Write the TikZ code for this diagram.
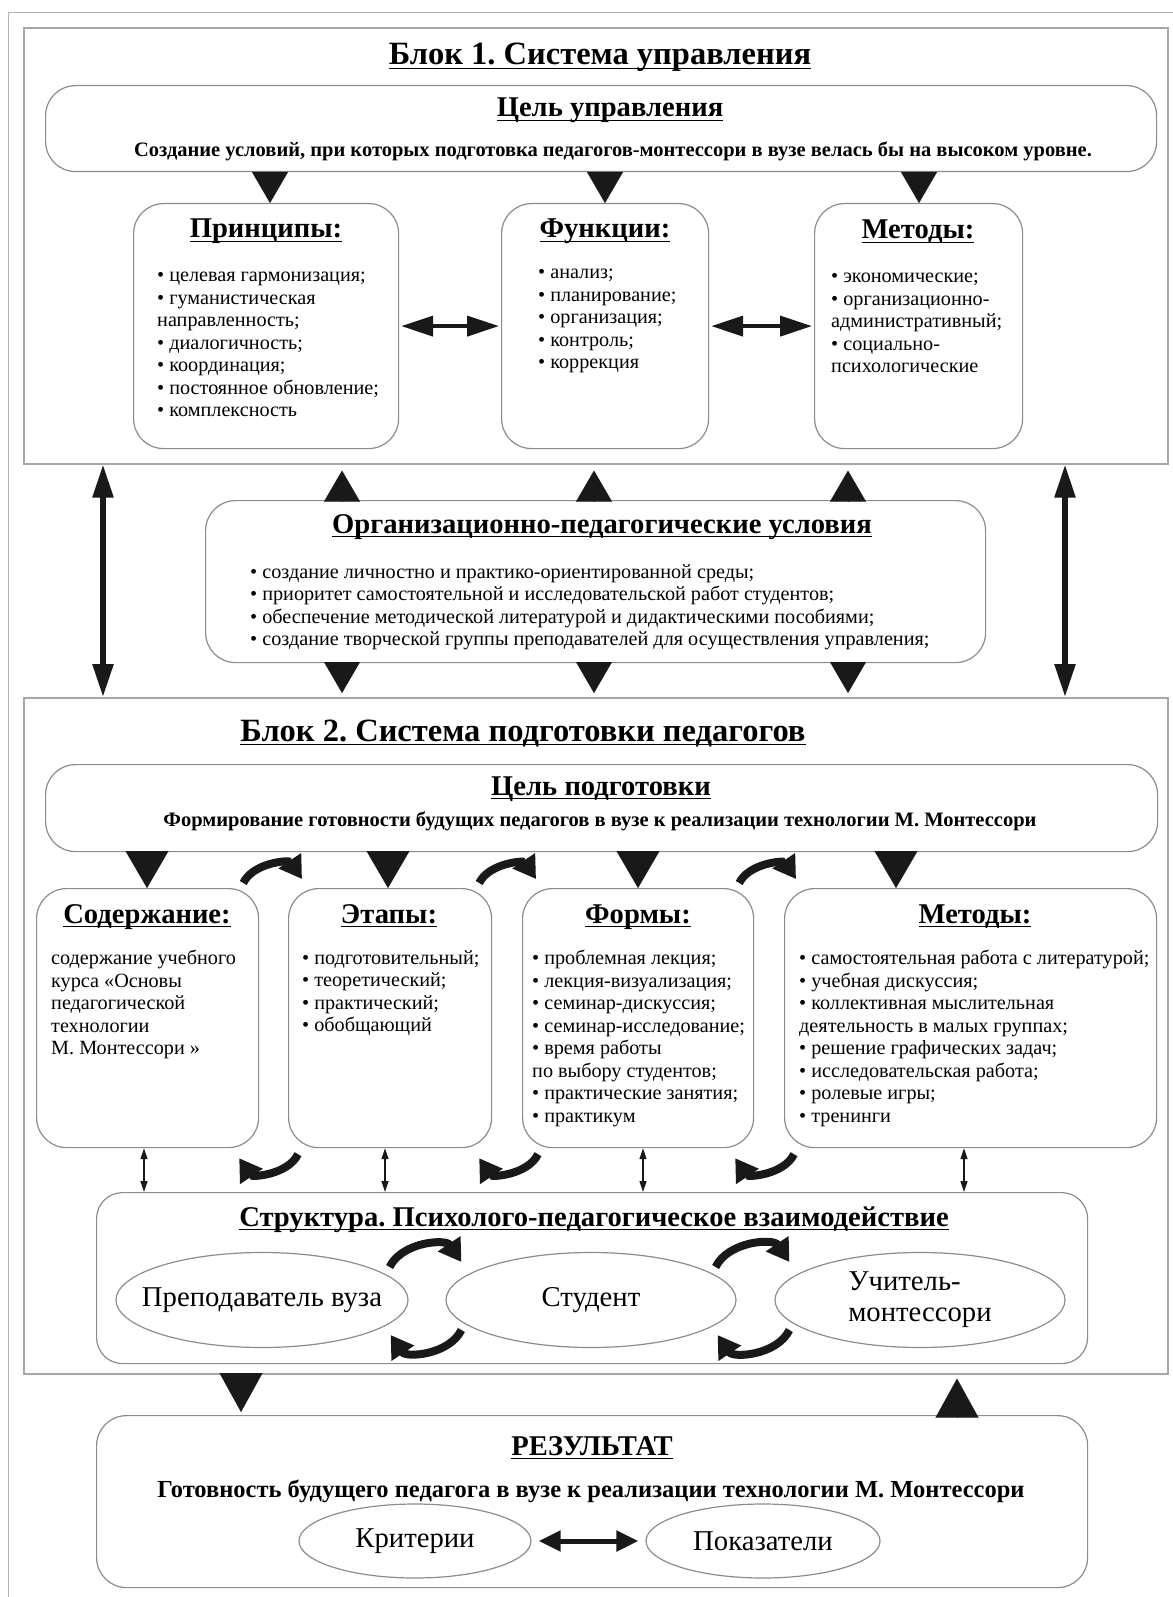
\documentclass[tikz,border=0pt]{standalone}
\usepackage{fontspec}
\setmainfont{Liberation Serif}
\usetikzlibrary{arrows.meta,shapes.geometric,calc}
\frenchspacing
\newsavebox\ulbox
\newcommand\uln[1]{\sbox\ulbox{#1}\rlap{\vrule height -2.6pt depth 4.2pt width \wd\ulbox}\usebox\ulbox}

\begin{document}
\begin{tikzpicture}[x=1pt,y=-1pt,
  blk/.style={draw=black!35,line width=1.6pt,anchor=north west,inner sep=0pt},
  rbox/.style={draw=black!45,line width=1.2pt,rounded corners=30pt,anchor=north west,inner sep=0pt},
  ell/.style={ellipse,draw=black!45,line width=1.2pt,inner sep=0pt},
  elt/.style={inner sep=0pt,align=left,font=\fontsize{28.7}{31}\selectfont},
  ttl/.style={anchor=base,inner sep=0pt,font=\bfseries\fontsize{32.5}{38}\selectfont},
  hd/.style={anchor=base,inner sep=0pt,font=\bfseries\fontsize{28.6}{33}\selectfont},
  sub/.style={anchor=base,inner sep=0pt,font=\bfseries\fontsize{20.5}{24}\selectfont},
  itm/.style={anchor=north west,inner sep=0pt,align=left,font=\fontsize{20.2}{22.5}\selectfont},
  tri/.style={-{Triangle[length=31pt,width=36pt]},line width=0.1pt,black!90},
  trib/.style={-{Triangle[length=37pt,width=43pt]},line width=0.1pt,black!90},
  tril/.style={-{Triangle[length=39pt,width=43pt]},line width=0.1pt,black!90},
  dbl/.style={{Triangle[length=32pt,width=20pt]}-{Triangle[length=32pt,width=20pt]},line width=4pt,black!90,shorten <=2pt,shorten >=2pt},
  vdbl/.style={{Triangle[length=33pt,width=20pt]}-{Triangle[length=33pt,width=20pt]},line width=5.5pt,black!90},
  sdbl/.style={{Triangle[length=11pt,width=7pt]}-{Triangle[length=11pt,width=7pt]},line width=1.2pt,black!90},
  rdbl/.style={{Triangle[length=22pt,width=20pt]}-{Triangle[length=22pt,width=20pt]},line width=5pt,black!90,shorten <=7pt,shorten >=7pt},
  crv/.style={-{Triangle[length=22pt,width=26pt]},line width=8pt,black!90}]
\useasboundingbox (0,0) rectangle (1172,1597);
\draw[black!30,line width=1pt] (8,13) rectangle (1200,1620);

\node[blk,minimum width=1144pt,minimum height=436pt] (blk1) at (23,27) {};
\node[ttl] (blk1t) at (600,65) {\uln{Блок 1. Система управления}};
\node[rbox,minimum width=1111pt,minimum height=86pt] (goal1) at (45,85) {};
\node[hd] (goal1t) at (610,117) {\uln{Цель управления}};
\node[sub] (goal1s) at (613,157) {Создание условий, при которых подготовка педагогов-монтессори в вузе велась бы на высоком уровне.};

\node[rbox,minimum width=265pt,minimum height=245pt] (prin) at (133,203) {};
\node[hd] (print) at (266,238) {\uln{Принципы:}};
\node[itm] (prinl) at (157,272) {• целевая гармонизация;\\• гуманистическая\\направленность;\\• диалогичность;\\• координация;\\• постоянное обновление;\\• комплексность};
\node[rbox,minimum width=207pt,minimum height=245pt] (fun) at (501,203) {};
\node[hd] (funt) at (605,238) {\uln{Функции:}};
\node[itm] (funl) at (538,269) {• анализ;\\• планирование;\\• организация;\\• контроль;\\• коррекция};
\node[rbox,minimum width=208pt,minimum height=245pt] (met1) at (814,203) {};
\node[hd] (met1t) at (918,239) {\uln{Методы:}};
\node[itm] (met1l) at (831,273) {• экономические;\\• организационно-\\административный;\\• социально-\\психологические};

\draw[tri] (270,0 |- goal1.south) -- (270,0 |- prin.north);
\draw[tri] (605,0 |- goal1.south) -- (605,0 |- fun.north);
\draw[tri] (919,0 |- goal1.south) -- (919,0 |- met1.north);
\draw[dbl] (prin.east) -- (fun.west);
\draw[dbl] (fun.east) -- (met1.west);

\node[blk,minimum width=1144pt,minimum height=676pt] (blk2) at (23,697) {};
\node[rbox,minimum width=780pt,minimum height=162pt] (org) at (205,500) {};
\node[hd] (orgt) at (602,533) {\uln{Организационно-педагогические условия}};
\node[itm] (orgl) at (250,564) {• создание личностно и практико-ориентированной среды;\\• приоритет самостоятельной и исследовательской работ студентов;\\• обеспечение методической литературой и дидактическими пособиями;\\• создание творческой группы преподавателей для осуществления управления;};

\draw[tri,shorten >=6pt] (342,0 |- org.north) -- (342,0 |- blk1.south);
\draw[tri,shorten >=6pt] (594,0 |- org.north) -- (594,0 |- blk1.south);
\draw[tri,shorten >=6pt] (848,0 |- org.north) -- (848,0 |- blk1.south);
\draw[tri,shorten >=4pt] (342,0 |- org.south) -- (342,0 |- blk2.north);
\draw[tri,shorten >=4pt] (594,0 |- org.south) -- (594,0 |- blk2.north);
\draw[tri,shorten >=4pt] (848,0 |- org.south) -- (848,0 |- blk2.north);
\draw[vdbl] (103,0 |- blk1.south) -- (103,0 |- blk2.north);
\draw[vdbl] (1065,0 |- blk1.south) -- (1065,0 |- blk2.north);

\node[ttl] (blk2t) at (523,741) {\uln{Блок 2. Система подготовки педагогов}};
\node[rbox,minimum width=1112pt,minimum height=87pt] (goal2) at (45,764) {};
\node[hd] (goal2t) at (601,795) {\uln{Цель подготовки}};
\node[sub] (goal2s) at (600,826) {Формирование готовности будущих педагогов в вузе к реализации технологии М. Монтессори};

\node[rbox,minimum width=222pt,minimum height=259pt] (sod) at (36,888) {};
\node[hd] (sodt) at (147,923) {\uln{Содержание:}};
\node[itm] (sodl) at (51,950) {содержание учебного\\курса «Основы\\педагогической\\технологии\\М. Монтессори »};
\node[rbox,minimum width=203pt,minimum height=259pt] (eta) at (288,888) {};
\node[hd] (etat) at (389,923) {\uln{Этапы:}};
\node[itm] (etal) at (302,950) {• подготовительный;\\• теоретический;\\• практический;\\• обобщающий};
\node[rbox,minimum width=231pt,minimum height=259pt] (frm) at (522,888) {};
\node[hd] (frmt) at (638,923) {\uln{Формы:}};
\node[itm] (frml) at (532,950) {• проблемная лекция;\\• лекция-визуализация;\\• семинар-дискуссия;\\• семинар-исследование;\\• время работы\\по выбору студентов;\\• практические занятия;\\• практикум};
\node[rbox,minimum width=372pt,minimum height=259pt] (met2) at (784,888) {};
\node[hd] (met2t) at (975,923) {\uln{Методы:}};
\node[itm] (met2l) at (799,950) {• самостоятельная работа с литературой;\\• учебная дискуссия;\\• коллективная мыслительная\\деятельность в малых группах;\\• решение графических задач;\\• исследовательская работа;\\• ролевые игры;\\• тренинги};

\draw[trib] (147,0 |- goal2.south) -- (147,0 |- sod.north);
\draw[trib] (388,0 |- goal2.south) -- (388,0 |- eta.north);
\draw[trib] (638,0 |- goal2.south) -- (638,0 |- frm.north);
\draw[trib] (896,0 |- goal2.south) -- (896,0 |- met2.north);

\draw[crv] ($(sod.north east)+(-16,-5)$) to[bend left=60] ($(eta.north west)+(14,-9)$);
\draw[crv] ($(eta.north east)+(-13,-5)$) to[bend left=60] ($(frm.north west)+(14,-9)$);
\draw[crv] ($(frm.north east)+(-15,-5)$) to[bend left=60] ($(met2.north west)+(12,-9)$);
\draw[crv] ($(eta.south west)+(10,6)$) to[bend left=60] ($(sod.south east)+(-20,10)$);
\draw[crv] ($(frm.south west)+(16,6)$) to[bend left=60] ($(eta.south east)+(-13,10)$);
\draw[crv] ($(met2.south west)+(10,6)$) to[bend left=60] ($(frm.south east)+(-19,10)$);

\node[rbox,rounded corners=26pt,minimum width=991pt,minimum height=171pt] (str) at (96,1192) {};
\draw[sdbl] (144,0 |- sod.south) -- (144,0 |- str.north);
\draw[sdbl] (385,0 |- eta.south) -- (385,0 |- str.north);
\draw[sdbl] (643,0 |- frm.south) -- (643,0 |- str.north);
\draw[sdbl] (964,0 |- met2.south) -- (964,0 |- str.north);
\node[hd] (strt) at (594,1226) {\uln{Структура. Психолого-педагогическое взаимодействие}};
\node[ell,minimum width=292pt,minimum height=95pt,label={[elt]center:Преподаватель вуза}] (prep) at (262,1300) {};
\node[ell,minimum width=290pt,minimum height=95pt,label={[elt]center:Студент}] (stu) at (591,1300) {};
\node[ell,minimum width=290pt,minimum height=95pt,label={[elt]center:Учитель-\\монтессори}] (uch) at (920,1300) {};

\draw[crv] ($(prep.east)+(-19,-33)$) to[bend left=60] ($(stu.west)+(16,-38)$);
\draw[crv] ($(stu.east)+(-21,-33)$) to[bend left=60] ($(uch.west)+(15,-38)$);
\draw[crv] ($(stu.west)+(16,30)$) to[bend left=60] ($(prep.east)+(-18,35)$);
\draw[crv] ($(uch.west)+(15,30)$) to[bend left=60] ($(stu.east)+(-19,35)$);

\node[rbox,minimum width=991pt,minimum height=172pt] (res) at (96,1415) {};
\draw[tril,shorten >=3pt] (241,0 |- blk2.south) -- (241,0 |- res.north);
\draw[tril,shorten >=4pt] (957,0 |- res.north) -- (957,0 |- blk2.south);
\node[hd] (rest) at (592,1455) {\uln{РЕЗУЛЬТАТ}};
\node[sub,font=\bfseries\fontsize{24.5}{28}\selectfont] (ress) at (591,1497) {Готовность будущего педагога в вузе к реализации технологии М. Монтессори};
\node[ell,minimum width=232pt,minimum height=74pt,label={[elt]center:Критерии}] (krit) at (415,1541) {};
\node[ell,minimum width=234pt,minimum height=74pt,label={[elt]center:Показатели}] (pok) at (763,1541) {};
\draw[rdbl] (krit.east) -- (pok.west);
\end{tikzpicture}
\end{document}
